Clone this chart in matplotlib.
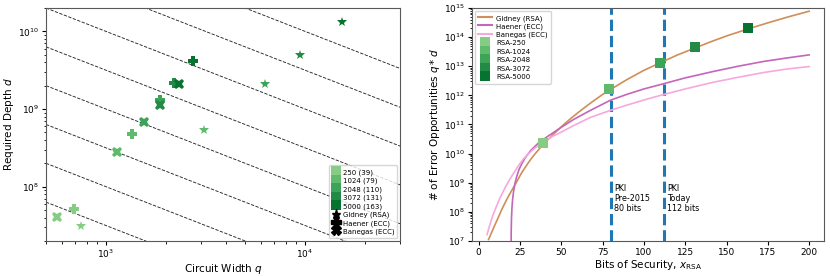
import numpy as np
import matplotlib
matplotlib.use('Agg')
import matplotlib.pyplot as plt
from matplotlib.lines import Line2D

# key sizes and their security level (bits)
rsa_sizes = ['250', '1024', '2048', '3072', '5000']
sec_bits = [39, 79, 110, 131, 163]

# circuit width q / depth d
gidney_q = [753, 3126, 6280, 9440, 15300]
gidney_d = [3.08e7, 5.33e8, 2.13e9, 4.93e9, 1.31e10]
haener_q = [689, 1359, 1860, 2203, 2729]
haener_d = [5.19e7, 4.82e8, 1.31e9, 2.18e9, 4.21e9]
banegas_q = [568, 1132, 1556, 1875, 2318]
banegas_d = [4.08e7, 2.76e8, 6.74e8, 1.14e9, 2.08e9]

# iso lines q*d = const (log10 of product)
iso_levels = [10.5, 11.0, 11.5, 12.0, 12.5, 13.0, 13.5, 14.0]

# curves on the right panel: security bits vs log10(q*d)
gid_x = [6, 8, 10, 12, 14, 16, 18, 20, 22, 24, 26, 28, 30, 32, 34.4, 37, 39.5,
         45, 50, 55, 60, 65, 70, 75, 80, 90, 100, 110, 120, 131.5, 140, 150,
         163, 175, 187, 200]
gid_y = [7.05, 7.31, 7.57, 7.82, 8.08, 8.31, 8.53, 8.73, 8.93, 9.13, 9.34,
         9.51, 9.68, 9.84, 10.01, 10.18, 10.34, 10.65, 10.92, 11.17, 11.40,
         11.62, 11.83, 12.03, 12.21, 12.55, 12.86, 13.12, 13.38, 13.64, 13.83,
         14.04, 14.28, 14.49, 14.69, 14.89]
hae_x = [19.6, 19.7, 19.9, 20.2, 20.6, 21.2, 22.0, 23.0, 24.4, 26.0, 28.0,
         31.4, 36.5, 42, 49.4, 57.4, 67.5, 80, 90, 100, 112, 125, 142, 157,
         172, 186, 200]
hae_y = [6.5, 7.3, 7.8, 8.17, 8.45, 8.72, 8.98, 9.20, 9.45, 9.64, 9.84,
         10.10, 10.38, 10.60, 10.88, 11.17, 11.48, 11.84, 12.04, 12.22, 12.40,
         12.60, 12.82, 13.00, 13.16, 13.28, 13.39]
ban_x = [5.1, 6.5, 8.3, 10, 12.3, 14, 16.3, 18, 20.4, 22, 24.4, 27, 30.4,
         33, 36.5, 41, 45, 49.4, 57.4, 67.5, 80, 90, 101.8, 112, 125, 142,
         157, 172, 186, 200]
ban_y = [7.22, 7.50, 7.83, 8.08, 8.40, 8.60, 8.86, 9.03, 9.26, 9.40, 9.61,
         9.81, 10.01, 10.14, 10.29, 10.46, 10.60, 10.72, 10.96, 11.24, 11.49,
         11.67, 11.87, 12.03, 12.22, 12.45, 12.62, 12.78, 12.90, 12.99]

pki_bits = [80, 112]
pki_text = ['PKI\nPre-2015\n80 bits', 'PKI\nToday\n112 bits']

greens = plt.cm.Greens(np.linspace(0.45, 0.85, 5))
c_gid = '#d08e58'
c_hae = '#c466b9'
c_ban = '#f7a8de'

fig = plt.figure(figsize=(8.3, 2.76), dpi=100)
ax1 = fig.add_axes([0.0554, 0.127, 0.4266, 0.844])
ax2 = fig.add_axes([0.5687, 0.127, 0.4241, 0.844])

# ---- left panel ----
qq = np.logspace(np.log10(500), np.log10(30000), 50)
for lv in iso_levels:
    ax1.plot(qq, 10**lv / qq, '--', color='k', lw=0.65, alpha=0.85, zorder=1)

for i in range(5):
    ax1.plot(gidney_q[i], gidney_d[i], '*', color=greens[i], ms=7.5, mew=0, zorder=3)
    ax1.plot(haener_q[i], haener_d[i], 'P', color=greens[i], ms=7.5, mew=0, zorder=3)
    ax1.plot(banegas_q[i], banegas_d[i], 'X', color=greens[i], ms=7.5, mew=0, zorder=3)

ax1.set_xscale('log')
ax1.set_yscale('log')
ax1.set_xlim(500, 30000)
ax1.set_ylim(2e7, 2e10)
ax1.set_xlabel('Circuit Width $q$', fontsize=7.5, labelpad=1)
ax1.set_ylabel('Required Depth $d$', fontsize=7.5, labelpad=1)

h1 = [Line2D([], [], marker='s', ls='', color=greens[i], ms=7.4, mew=0,
             label=f'{rsa_sizes[i]} ({sec_bits[i]})') for i in range(5)]
h1 += [Line2D([], [], marker='*', color='k', ls='', ms=6.5, label='Gidney (RSA)'),
       Line2D([], [], marker='P', color='k', ls='', ms=6.5, label='Haener (ECC)'),
       Line2D([], [], marker='X', color='k', ls='', ms=6.5, label='Banegas (ECC)')]
ax1.legend(handles=h1, loc='lower right', fontsize=5, handlelength=1.0,
           handleheight=1.3, labelspacing=0.12, handletextpad=0.5,
           borderpad=0.45, borderaxespad=0.4, framealpha=0.8)

# ---- right panel ----
ax2.plot(gid_x, 10**np.array(gid_y), color=c_gid, lw=1.2, label='Gidney (RSA)')
ax2.plot(hae_x, 10**np.array(hae_y), color=c_hae, lw=1.2, label='Haener (ECC)')
ax2.plot(ban_x, 10**np.array(ban_y), color=c_ban, lw=1.2, label='Banegas (ECC)')

for b, t in zip(pki_bits, pki_text):
    ax2.axvline(b, color='#1f77b4', ls='--', lw=2.2, zorder=1)
    ax2.text(b + 2, 10**8.95, t, fontsize=5.8, va='top', ha='left', linespacing=1.15)

for i in range(5):
    ax2.plot(sec_bits[i], gidney_q[i] * gidney_d[i], 's', color=greens[i],
             ms=7, mew=0, zorder=4)

ax2.set_yscale('log')
ax2.set_xlim(-4, 209)
ax2.set_ylim(1e7, 1e15)
ax2.set_xticks([0, 25, 50, 75, 100, 125, 150, 175, 200])
ax2.set_xlabel('Bits of Security, $x_\\mathrm{RSA}$', fontsize=7.5, labelpad=1)
ax2.set_ylabel('# of Error Opportunities $q * d$', fontsize=7.5, labelpad=1)

h2 = [Line2D([], [], color=c, lw=1.5, label=l) for c, l in
      [(c_gid, 'Gidney (RSA)'), (c_hae, 'Haener (ECC)'), (c_ban, 'Banegas (ECC)')]]
h2 += [Line2D([], [], marker='s', ls='', color=greens[i], ms=7.4, mew=0,
              label=f'RSA-{rsa_sizes[i]}') for i in range(5)]
ax2.legend(handles=h2, loc='upper left', fontsize=5, handlelength=2.0,
           handleheight=1.3, labelspacing=0.12, handletextpad=0.6,
           borderpad=0.45, borderaxespad=0.4, framealpha=0.8)

for ax in (ax1, ax2):
    ax.tick_params(labelsize=6.5, length=3, pad=2)
    ax.tick_params(which='minor', length=1.8)
    for s in ax.spines.values():
        s.set_color('0.35')

plt.savefig('out.png', dpi=100)
